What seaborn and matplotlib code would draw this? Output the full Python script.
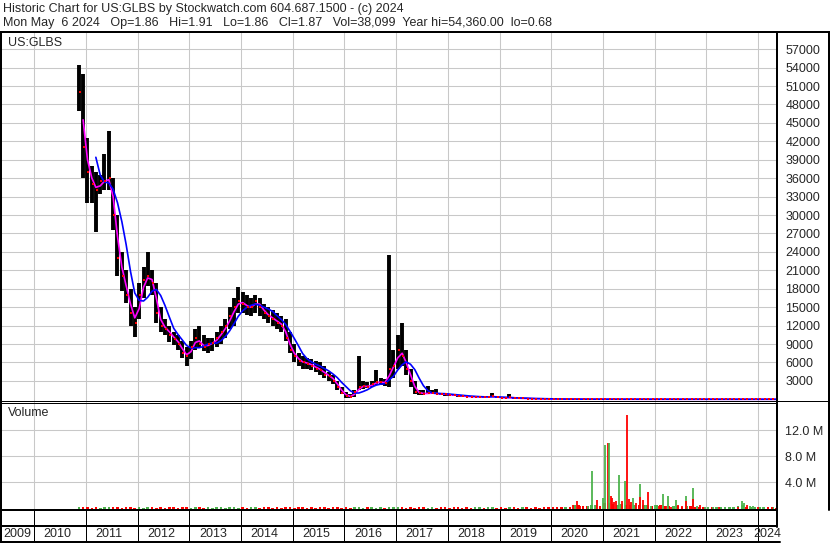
import numpy as np
import pandas as pd
import seaborn as sns
import matplotlib
matplotlib.use('Agg')
import matplotlib.pyplot as plt
from matplotlib.lines import Line2D

# monthly bars, Nov 2010 .. May 2024 (prices in thousands)
high_k = [54.4, 53.0,
          42.5, 38.0, 37.0, 36.5, 40.0, 43.7, 36.0, 30.0, 24.0, 21.0, 18.0, 15.0,
          19.0, 21.5, 23.9, 21.0, 19.0, 15.0, 13.0, 12.0, 11.0, 10.5, 9.5, 8.5,
          9.5, 11.5, 12.0, 10.5, 10.0, 10.0, 11.0, 12.0, 13.0, 15.0, 16.5, 18.2,
          17.5, 17.0, 16.5, 17.0, 16.5, 15.5, 15.0, 14.5, 14.0, 13.5, 13.0, 11.0,
          9.0, 7.5, 7.0, 6.8, 6.5, 6.2, 6.0, 5.5, 4.5, 4.0, 3.0, 2.0,
          1.2, 0.8, 1.5, 7.0, 3.0, 2.8, 3.0, 4.7, 3.5, 3.3, 23.5, 8.0,
          10.5, 12.5, 8.0, 5.0, 3.0, 1.5, 1.5, 2.1, 1.5, 1.6, 1.1, 1.0,
          0.9, 0.8, 0.75, 0.7, 0.6, 0.55, 0.5, 0.6, 0.5, 0.5, 1.1, 0.5,
          0.4, 0.35, 0.8, 0.35, 0.3, 0.25, 0.2, 0.18, 0.16, 0.15, 0.14, 0.12,
          0.05, 0.05, 0.04, 0.035, 0.03, 0.03, 0.028, 0.025, 0.022, 0.02, 0.03, 0.025,
          0.009, 0.011, 0.007, 0.006, 0.007, 0.006, 0.005, 0.005, 0.004, 0.004, 0.004, 0.003,
          0.003, 0.003, 0.0028, 0.0027, 0.0025, 0.0024, 0.0022, 0.0024, 0.0022, 0.002, 0.0018, 0.0016,
          0.0016, 0.0015, 0.0014, 0.0015, 0.0016, 0.0015, 0.0017, 0.002, 0.0022, 0.0021, 0.002, 0.002,
          0.0021, 0.0022, 0.0021, 0.002, 0.0019]
low_k = [47.0, 36.0,
         32.0, 32.0, 27.2, 33.5, 34.0, 34.0, 27.5, 20.0, 17.7, 15.6, 12.0, 10.1,
         13.0, 16.5, 18.5, 17.0, 12.4, 11.0, 10.5, 9.3, 8.8, 8.0, 6.8, 5.5,
         6.5, 8.0, 8.5, 7.8, 7.5, 7.8, 8.5, 9.0, 10.0, 11.5, 12.0, 14.0,
         14.0, 13.7, 13.5, 14.0, 13.5, 13.0, 12.5, 12.0, 11.5, 11.0, 9.5, 7.5,
         6.0, 5.5, 5.0, 5.0, 4.8, 4.5, 4.0, 3.5, 3.0, 2.5, 1.5, 0.8,
         0.2, 0.2, 0.3, 1.5, 1.7, 1.8, 2.0, 2.3, 2.3, 2.2, 2.0, 3.5,
         5.0, 5.5, 4.0, 2.0, 0.9, 0.7, 0.7, 0.8, 0.8, 0.8, 0.7, 0.6,
         0.55, 0.5, 0.45, 0.4, 0.35, 0.3, 0.3, 0.3, 0.25, 0.3, 0.35, 0.2,
         0.15, 0.15, 0.15, 0.12, 0.1, 0.1, 0.08, 0.08, 0.07, 0.06, 0.05, 0.04,
         0.03, 0.03, 0.02, 0.02, 0.018, 0.018, 0.016, 0.015, 0.013, 0.012, 0.012, 0.012,
         0.004, 0.005, 0.004, 0.004, 0.004, 0.004, 0.003, 0.003, 0.003, 0.003, 0.002, 0.002,
         0.002, 0.002, 0.0019, 0.0018, 0.0017, 0.0016, 0.0015, 0.0016, 0.0015, 0.0014, 0.0013, 0.0012,
         0.0012, 0.0012, 0.0011, 0.0012, 0.0012, 0.0012, 0.0013, 0.0015, 0.0017, 0.0016, 0.0016, 0.0017,
         0.0018, 0.0019, 0.0018, 0.0018, 0.0018]
close_k = [50.0, 41.0,
           37.0, 35.0, 34.0, 35.5, 35.5, 36.0, 30.0, 23.0, 20.0, 17.0, 14.0, 12.5,
           17.0, 19.5, 20.0, 19.0, 14.0, 12.0, 11.5, 10.5, 9.8, 9.0, 7.5, 7.0,
           8.5, 10.0, 9.0, 8.5, 9.0, 9.2, 10.0, 11.0, 12.0, 13.5, 15.0, 16.0,
           15.5, 15.0, 15.0, 16.0, 15.0, 14.0, 13.5, 13.0, 12.5, 12.0, 10.0, 8.0,
           7.0, 6.2, 6.0, 5.8, 5.5, 5.0, 4.8, 4.0, 3.8, 3.0, 2.0, 1.0,
           0.5, 0.4, 1.2, 2.0, 2.2, 2.0, 2.5, 2.8, 2.8, 2.6, 5.0, 5.5,
           8.0, 7.0, 5.0, 3.0, 1.2, 1.0, 0.9, 1.0, 1.0, 0.9, 0.85, 0.8,
           0.7, 0.65, 0.6, 0.5, 0.45, 0.4, 0.4, 0.4, 0.35, 0.4, 0.5, 0.3,
           0.25, 0.2, 0.3, 0.2, 0.15, 0.15, 0.12, 0.1, 0.09, 0.08, 0.07, 0.05,
           0.04, 0.035, 0.025, 0.025, 0.02, 0.022, 0.02, 0.018, 0.015, 0.015, 0.018, 0.015,
           0.006, 0.006, 0.005, 0.005, 0.005, 0.004, 0.004, 0.004, 0.003, 0.003, 0.003, 0.0025,
           0.0025, 0.0024, 0.0022, 0.002, 0.002, 0.0019, 0.0018, 0.002, 0.0017, 0.0016, 0.0015, 0.0014,
           0.0014, 0.0013, 0.0013, 0.0014, 0.0014, 0.0014, 0.0016, 0.0019, 0.0019, 0.0018, 0.0018, 0.0019,
           0.002, 0.002, 0.0019, 0.0019, 0.00187]
# background volume per month, millions
base_vol_m = [0.25, 0.2,
              0.2, 0.15, 0.2, 0.15, 0.2, 0.25, 0.2, 0.2, 0.15, 0.2, 0.2, 0.15,
              0.2, 0.15, 0.2, 0.2, 0.15, 0.2, 0.15, 0.2, 0.2, 0.15, 0.2, 0.2,
              0.15, 0.2, 0.2, 0.15, 0.2, 0.15, 0.2, 0.2, 0.15, 0.2, 0.2, 0.15,
              0.2, 0.15, 0.2, 0.2, 0.15, 0.2, 0.2, 0.15, 0.2, 0.15, 0.2, 0.2,
              0.15, 0.2, 0.2, 0.15, 0.2, 0.15, 0.2, 0.2, 0.15, 0.2, 0.2, 0.15,
              0.2, 0.15, 0.2, 0.2, 0.15, 0.2, 0.2, 0.15, 0.2, 0.15, 0.25, 0.2,
              0.2, 0.2, 0.15, 0.2, 0.15, 0.2, 0.2, 0.15, 0.2, 0.15, 0.2, 0.2,
              0.15, 0.2, 0.2, 0.15, 0.2, 0.15, 0.2, 0.2, 0.15, 0.2, 0.2, 0.15,
              0.2, 0.15, 0.2, 0.2, 0.15, 0.2, 0.2, 0.15, 0.2, 0.15, 0.2, 0.2,
              0.2, 0.2, 0.25, 0.3, 0.3, 0.6, 0.5, 0.4, 0.4, 0.5, 0.5, 0.4,
              0.8, 0.8, 0.7, 0.6, 0.7, 0.6, 0.6, 0.5, 0.6, 0.5, 0.5, 0.4,
              0.5, 0.5, 0.4, 0.4, 0.4, 0.4, 0.3, 0.4, 0.4, 0.3, 0.3, 0.2,
              0.2, 0.2, 0.2, 0.2, 0.2, 0.2, 0.25, 0.4, 0.5, 0.3, 0.3, 0.2,
              0.2, 0.2, 0.2, 0.2, 0.15]

# single heavy-volume days 2020-2024, millions
spike_dates = ['2020-06-02', '2020-07-01', '2020-07-22', '2020-09-17', '2020-10-15', '2020-11-05',
               '2020-11-19', '2020-12-10', '2021-01-04', '2021-01-15', '2021-02-05', '2021-02-12',
               '2021-02-26', '2021-03-05', '2021-03-19', '2021-04-02', '2021-04-23', '2021-05-15',
               '2021-06-04', '2021-06-18', '2021-07-02', '2021-07-16', '2021-07-31', '2021-08-21',
               '2021-09-18', '2021-09-21', '2021-10-09', '2021-10-23', '2021-11-13', '2021-12-04',
               '2022-01-03', '2022-01-31', '2022-02-28', '2022-03-21', '2022-04-04', '2022-04-25',
               '2022-05-31', '2022-06-14', '2022-07-12', '2022-08-09', '2022-08-12', '2022-09-07',
               '2022-09-28', '2022-09-30', '2022-10-26', '2022-11-16', '2022-12-21', '2023-02-16',
               '2023-03-30', '2023-05-12', '2023-07-07', '2023-08-11', '2023-09-09', '2023-09-23',
               '2023-10-14', '2023-11-04', '2023-11-25', '2024-01-02', '2024-02-05', '2024-03-11',
               '2024-04-08']
spike_vol_m = [0.6, 1.1, 0.4, 0.4, 5.8, 0.5,
               1.4, 0.4, 1.7, 9.7, 10.1, 10.0,
               2.0, 1.6, 1.0, 1.2, 5.1, 1.2,
               4.3, 14.3, 1.5, 1.0, 1.6, 0.8,
               3.7, 1.8, 1.3, 0.6, 2.5, 0.4,
               0.5, 0.4, 2.3, 0.4, 2.0, 0.3,
               1.4, 0.5, 0.4, 2.0, 1.2, 0.3,
               3.2, 1.5, 0.4, 0.6, 0.3, 0.3,
               0.2, 0.2, 0.2, 0.2, 1.1, 0.8,
               0.5, 0.4, 0.4, 0.2, 0.2, 0.3,
               0.2]
spike_up = [0, 0, 0, 1, 1, 1,
            0, 0, 1, 1, 0, 1,
            0, 0, 0, 0, 1, 0,
            1, 0, 0, 0, 1, 0,
            1, 0, 0, 1, 0, 1,
            1, 0, 1, 0, 1, 0,
            1, 0, 0, 1, 0, 0,
            1, 0, 1, 0, 1, 1,
            0, 1, 1, 0, 1, 1,
            0, 1, 1, 0, 1, 0,
            0]

price_ticks = list(range(3000, 57001, 3000))
vol_ticks_m = [4, 8, 12]
years = list(range(2009, 2025))

header1 = 'Historic Chart for US:GLBS by Stockwatch.com 604.687.1500 - (c) 2024'
header2 = 'Mon May  6 2024   Op=1.86   Hi=1.91   Lo=1.86   Cl=1.87   Vol=38,099  Year hi=54,360.00  lo=0.68'

# ---------------------------------------------------------------------------
months = pd.date_range('2010-11-01', periods=len(close_k), freq='MS') + pd.Timedelta(days=11)
df = pd.DataFrame({'date': months,
                   'high': np.array(high_k) * 1000,
                   'low': np.array(low_k) * 1000,
                   'close': np.array(close_k) * 1000,
                   'vol': np.array(base_vol_m) * 1e6})
df['ma_short'] = df['close'].rolling(2).mean()
df['ma_long'] = df['close'].rolling(5).mean()
df['up'] = df['close'].diff().fillna(1) >= 0

spikes = pd.DataFrame({'date': pd.to_datetime(spike_dates),
                       'vol': np.array(spike_vol_m) * 1e6,
                       'up': np.array(spike_up, dtype=bool)})

sns.set_style('white')
plt.rcParams['font.family'] = ['Liberation Sans', 'DejaVu Sans']
FS = 9.0
GREEN = '#4db34d'
RED = '#ff0000'
GRID = '#c8c8c8'

W, H = 830, 543
fig = plt.figure(figsize=(W / 100, H / 100), dpi=100)


def box(l, t, r, b):
    return [l / W, 1 - b / H, (r - l) / W, (b - t) / H]


def hline(y, x0, x1, px=1.0):
    fig.add_artist(Line2D([x0 / W, x1 / W], [1 - y / H, 1 - y / H], color='black', lw=px * 0.72))


def vline(x, y0, y1, px=1.0):
    fig.add_artist(Line2D([x / W, x / W], [1 - y0 / H, 1 - y1 / H], color='black', lw=px * 0.72))


def date_to_px(d):
    return 34.3 + 51.7 * ((pd.Timestamp(d) - pd.Timestamp('2010-01-01')).days / 365.25)


x_left = pd.Timestamp('2009-05-11')
x_right = pd.Timestamp('2024-05-14')
year_starts = [pd.Timestamp(f'{y}-01-01') for y in years[1:]]

ax = fig.add_axes(box(1, 32, 777, 401))
axv = fig.add_axes(box(1, 402, 777, 509))

for a in (ax, axv):
    a.set_xlim(x_left, x_right)
    a.set_xticks(year_starts)
    a.grid(True, color=GRID, lw=0.75)
    a.set_axisbelow(True)
    a.tick_params(length=0, labelbottom=False, labelleft=False, labelright=True,
                  labelsize=FS, pad=6)
    a.yaxis.tick_right()
    for s in a.spines.values():
        s.set_visible(False)

# price panel
ax.vlines(df['date'], df['low'], df['high'], color='black', lw=2.8)
ax.scatter(df['date'] + pd.Timedelta(days=6), df['close'], marker='s', s=4,
           color=RED, linewidths=0, zorder=3)
sns.lineplot(data=df, x='date', y='ma_short', ax=ax, color='#ff00ff', lw=1.2)
sns.lineplot(data=df, x='date', y='ma_long', ax=ax, color='#0000ff', lw=1.2)
ax.set_ylim(-280, 59800)
ax.set_yticks(price_ticks)
ax.set_yticklabels([str(v) for v in price_ticks])
ax.set_xlabel('')
ax.set_ylabel('')
ax.text(7 / 776, 1 - 11 / 369, 'US:GLBS', transform=ax.transAxes, fontsize=FS,
        ha='left', va='center')

# volume panel
axv.bar(df['date'], df['vol'], width=18,
        color=np.where(df['up'], GREEN, RED), linewidth=0)
axv.vlines(spikes['date'], 0, spikes['vol'],
           colors=np.where(spikes['up'], GREEN, RED), lw=1.3)
axv.set_ylim(-0.05e6, 16.3e6)
axv.set_yticks([v * 1e6 for v in vol_ticks_m])
axv.set_yticklabels([f'{v:.1f} M' for v in vol_ticks_m])
axv.text(7 / 776, 1 - 11 / 107, 'Volume', transform=axv.transAxes, fontsize=FS,
         ha='left', va='center')

# header
fig.text(3 / W, 1 - 9 / H, header1, fontsize=FS, ha='left', va='center')
fig.text(3 / W, 1 - 23 / H, header2, fontsize=FS, ha='left', va='center')

# frame lines
hline(32, 0, W, 2)
vline(1, 32, H, 2)
vline(777, 32, 527, 2)
vline(829, 32, 510, 2)
hline(400.5, 0, W, 1)
hline(403, 0, 777, 1)
hline(509.5, 0, 777, 2)
hline(526, 0, 777, 2)
hline(542, 0, 780, 2)
for ys in year_starts:
    vline(date_to_px(ys), 510, 542, 1)

# year labels
for y in years:
    l = max(1, date_to_px(f'{y}-01-01'))
    r = min(777, date_to_px(f'{y + 1}-01-01'))
    cx = (l + r) / 2 - (0 if y in (2009, 2024) else 2.5)
    if y == 2024:
        cx = 767
    fig.text(cx / W, 1 - 534 / H, str(y), fontsize=FS, ha='center', va='center')

fig.savefig('out.png', dpi=100)
